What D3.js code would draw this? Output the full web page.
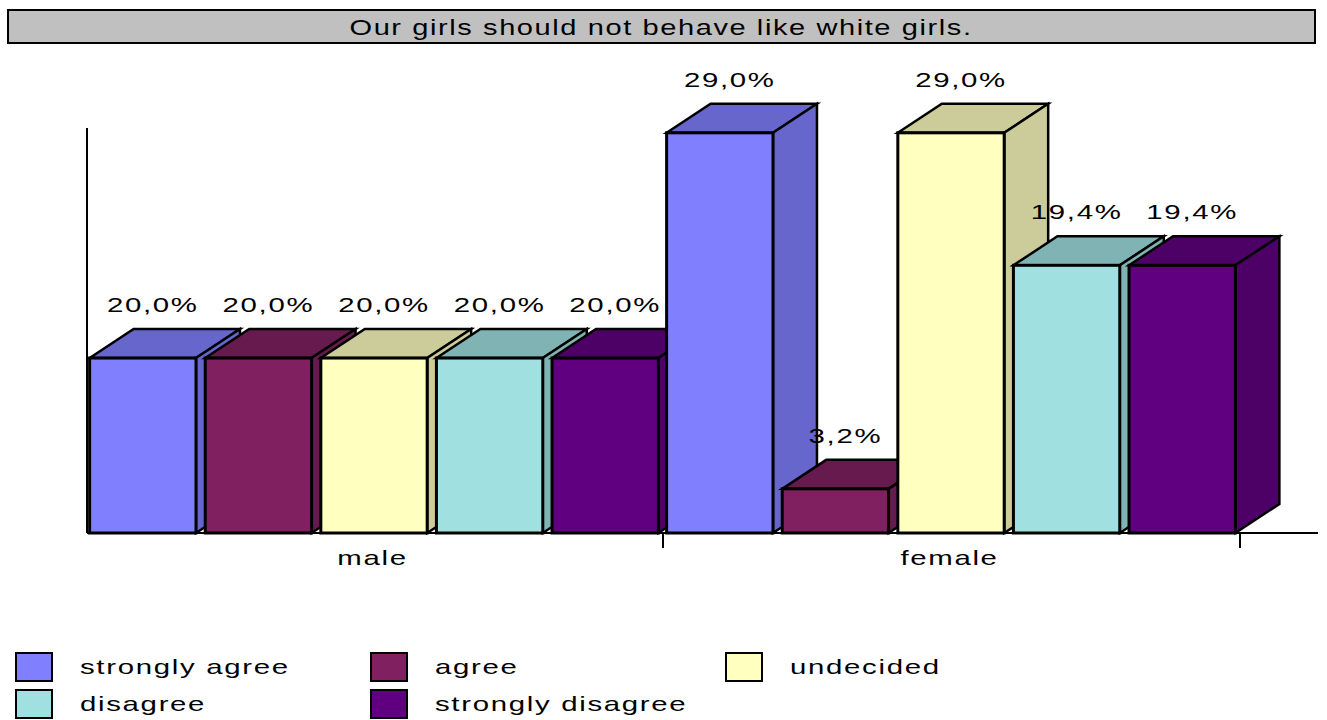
<!DOCTYPE html>
<html>
<head>
<meta charset="utf-8">
<script src="https://cdn.jsdelivr.net/npm/d3@7"></script>
<style>
  html, body { margin: 0; padding: 0; background: #fff; }
  svg { display: block; font-family: Arial, "Liberation Sans", sans-serif; }
</style>
</head>
<body>
<svg id="chart" width="1327" height="720"></svg>
<script>
// Survey answers, percent of respondents per gender
const title = "Our girls should not behave like white girls.";
const groups = ["male", "female"];
const answers = ["strongly agree", "agree", "undecided", "disagree", "strongly disagree"];
const maleValues = [20.0, 20.0, 20.0, 20.0, 20.0];
const femaleValues = [29.0, 3.2, 29.0, 19.4, 19.4];
const answerColors = ["#8080FF", "#802060", "#FFFFC0", "#A0E0E0", "#600080"];
// each gender panel is scaled on its own value axis
const axisMax = [46.3, 29.35];

const values = [maleValues, femaleValues];
const fmt = v => v.toFixed(1).replace(".", ",") + "%";

const svg = d3.select("#chart");
const baseY = 533, topY = 128;
const depthX = 44, depthY = -29;
const stretch = 1.4, spacing = 1.2;

// wide, spaced text in the style of the original chart
function label(sel, x, y, str, size, anchor, sx, ls) {
  return sel.append("text")
    .attr("transform", `translate(${x},${y}) scale(${sx},1)`)
    .attr("text-anchor", anchor).attr("font-size", size).attr("fill", "#000")
    .attr("letter-spacing", ls)
    .text(str);
}

// title bar
svg.append("rect").attr("x", 8).attr("y", 10).attr("width", 1307).attr("height", 33)
  .attr("fill", "#C0C0C0").attr("stroke", "#000").attr("stroke-width", 2);
label(svg, 661, 35, title, 22, "middle", 1.32, 1.2);

const x0 = d3.scaleBand().domain(groups).range([87, 1241]).paddingInner(0).paddingOuter(0);
const x1 = d3.scaleBand().domain(answers)
  .range([-2, x0.bandwidth() - 1]).paddingInner(0.08).paddingOuter(0.04);
const yScales = groups.map((g, gi) => d3.scaleLinear().domain([0, axisMax[gi]]).range([baseY, topY]));

// axes
svg.append("line").attr("x1", 87).attr("x2", 87).attr("y1", topY).attr("y2", baseY)
  .attr("stroke", "#000").attr("stroke-width", 2);
svg.append("line").attr("x1", 87).attr("x2", 1318).attr("y1", baseY).attr("y2", baseY)
  .attr("stroke", "#000").attr("stroke-width", 2);
groups.forEach(g => {
  svg.append("line")
    .attr("x1", x0(g) + x0.bandwidth() - 1).attr("x2", x0(g) + x0.bandwidth() - 1)
    .attr("y1", baseY).attr("y2", baseY + 15)
    .attr("stroke", "#000").attr("stroke-width", 2);
  label(svg, x0(g) + x0.bandwidth() / 2 - 3, 565, g, 21, "middle", stretch, spacing);
});

// 3-D bars: top, side, then front face, drawn left to right
const shade = c => { const k = d3.rgb(c); return d3.rgb(k.r * 0.8, k.g * 0.8, k.b * 0.8).formatHex(); };
const bars = [];
groups.forEach((g, gi) => answers.forEach((a, ai) => {
  bars.push({ g, gi, a, ai, v: values[gi][ai] });
}));

const barW = x1.bandwidth();
const barG = svg.append("g");
bars.forEach(d => {
  const xl = x0(d.g) + x1(d.a);
  const xr = xl + barW;
  const yt = yScales[d.gi](d.v);
  const col = answerColors[d.ai];
  const dark = shade(col);
  const gg = barG.append("g").attr("stroke", "#000").attr("stroke-width", 2.5).attr("stroke-linejoin", "miter");
  gg.append("path")
    .attr("d", `M${xl},${yt} L${xl + depthX},${yt + depthY} L${xr + depthX},${yt + depthY} L${xr},${yt} Z`)
    .attr("fill", dark);
  gg.append("path")
    .attr("d", `M${xr},${yt} L${xr + depthX},${yt + depthY} L${xr + depthX},${baseY + depthY} L${xr},${baseY} Z`)
    .attr("fill", dark);
  gg.append("rect").attr("x", xl).attr("y", yt).attr("width", barW).attr("height", baseY - yt)
    .attr("fill", col).attr("stroke-width", 3);
});

// value labels above each bar
bars.forEach(d => {
  const xl = x0(d.g) + x1(d.a);
  const yt = yScales[d.gi](d.v);
  label(svg, xl + barW / 2 + 10, yt + depthY - 17, fmt(d.v), 21, "middle", stretch, spacing);
});

// legend, three columns
const legendCols = [16, 371, 726];
const legendRows = [653, 690];
answers.forEach((a, i) => {
  const cx = legendCols[i % 3];
  const ry = legendRows[Math.floor(i / 3)];
  svg.append("rect").attr("x", cx).attr("y", ry).attr("width", 36).attr("height", 28)
    .attr("fill", answerColors[i]).attr("stroke", "#000").attr("stroke-width", 2);
  label(svg, cx + 64, ry + 21, a, 21, "start", stretch, spacing);
});
</script>
</body>
</html>
